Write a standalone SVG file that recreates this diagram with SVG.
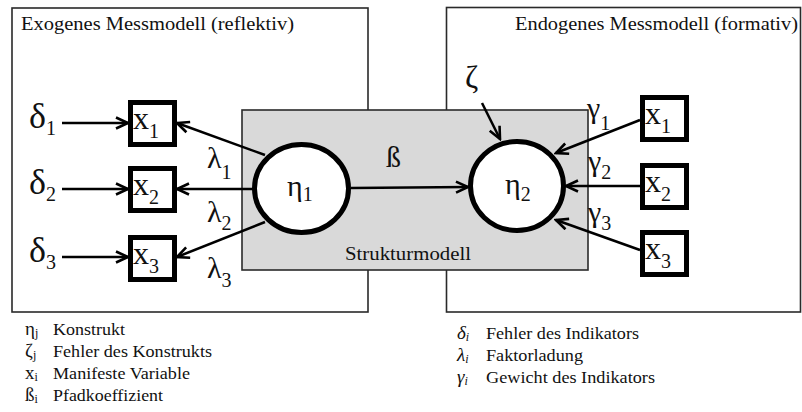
<svg xmlns="http://www.w3.org/2000/svg" width="802" height="412" viewBox="0 0 802 412">
<style>
text{fill:#111}
.frame{fill:#fff;stroke:#2a2a2a;stroke-width:1.6}
.struct{fill:#d9d9d9;stroke:#2a2a2a;stroke-width:1.6}
.box{fill:#fff;stroke:#000;stroke-width:5}
.lat{fill:#fff;stroke:#000;stroke-width:5}
.con{stroke:#000;stroke-width:2.5;fill:none;marker-end:url(#ah)}
</style>
<defs>
<marker id="ah" markerUnits="userSpaceOnUse" markerWidth="16" markerHeight="14" viewBox="0 0 16 14" refX="14" refY="7" orient="auto">
<path d="M2,1.5 L14,7 L2,12.5" fill="none" stroke="#000" stroke-width="2.6" stroke-linejoin="miter"/>
</marker>
</defs>

<g id="exogen-frame">
<rect class="frame" x="12" y="8" width="356" height="304"/>
<text font-family="Liberation Serif, serif" font-size="19" x="21" y="30" textLength="273" lengthAdjust="spacingAndGlyphs">Exogenes Messmodell (reflektiv)</text>
</g>
<g id="endogen-frame">
<rect class="frame" x="446.5" y="7.5" width="354" height="304.5"/>
<text font-family="Liberation Serif, serif" font-size="19" x="515" y="30" textLength="283" lengthAdjust="spacingAndGlyphs">Endogenes Messmodell (formativ)</text>
</g>
<g id="strukturmodell">
<rect class="struct" x="242" y="110" width="346" height="160"/>
<text font-family="Liberation Serif, serif" font-size="19" x="345" y="260" textLength="126" lengthAdjust="spacingAndGlyphs">Strukturmodell</text>
</g>

<g id="connectors">
<line class="con" x1="62" y1="123" x2="128" y2="123"/>
<line class="con" x1="62" y1="189" x2="128" y2="189"/>
<line class="con" x1="62" y1="257" x2="128" y2="257"/>
<line class="con" x1="265" y1="155" x2="177" y2="123"/>
<line class="con" x1="253" y1="189" x2="177" y2="189"/>
<line class="con" x1="265" y1="222" x2="177" y2="257"/>
<line class="con" x1="351" y1="188" x2="468" y2="187"/>
<line class="con" x1="482" y1="103" x2="500" y2="139"/>
<line class="con" x1="640" y1="120" x2="556" y2="153"/>
<line class="con" x1="640" y1="186" x2="566" y2="186"/>
<line class="con" x1="640" y1="250" x2="556" y2="220"/>
</g>

<g id="eta1" font-family="Liberation Serif, serif">
<ellipse class="lat" cx="301.5" cy="188.5" rx="47" ry="44"/>
<text font-family="Liberation Serif, serif" font-size="30" x="287" y="196">η<tspan font-size="20" dy="5">1</tspan></text>
</g>
<g id="eta2" font-family="Liberation Serif, serif">
<ellipse class="lat" cx="517" cy="186" rx="46.5" ry="44.5"/>
<text font-family="Liberation Serif, serif" font-size="30" x="505" y="194">η<tspan font-size="20" dy="7">2</tspan></text>
</g>

<g id="x1-left" font-family="Liberation Serif, serif">
<rect class="box" x="130.5" y="102.5" width="44" height="42"/>
<text font-family="Liberation Serif, serif" font-size="32" x="133" y="129">x<tspan font-size="20" dy="9">1</tspan></text>
</g>
<g id="x2-left" font-family="Liberation Serif, serif">
<rect class="box" x="130.5" y="168.5" width="44" height="42"/>
<text font-family="Liberation Serif, serif" font-size="32" x="133" y="195">x<tspan font-size="20" dy="9">2</tspan></text>
</g>
<g id="x3-left" font-family="Liberation Serif, serif">
<rect class="box" x="130.5" y="237.5" width="44" height="42"/>
<text font-family="Liberation Serif, serif" font-size="32" x="133" y="264">x<tspan font-size="20" dy="9">3</tspan></text>
</g>
<g id="x1-right" font-family="Liberation Serif, serif">
<rect class="box" x="642.5" y="97.5" width="44" height="42"/>
<text font-family="Liberation Serif, serif" font-size="32" x="645" y="124">x<tspan font-size="20" dy="9">1</tspan></text>
</g>
<g id="x2-right" font-family="Liberation Serif, serif">
<rect class="box" x="642.5" y="165.5" width="44" height="42"/>
<text font-family="Liberation Serif, serif" font-size="32" x="645" y="192">x<tspan font-size="20" dy="9">2</tspan></text>
</g>
<g id="x3-right" font-family="Liberation Serif, serif">
<rect class="box" x="642.5" y="232.5" width="44" height="42"/>
<text font-family="Liberation Serif, serif" font-size="32" x="645" y="259">x<tspan font-size="20" dy="9">3</tspan></text>
</g>

<g id="delta1"><text font-family="Liberation Serif, serif" font-size="36" x="29" y="128">δ<tspan font-size="20" dy="7">1</tspan></text></g>
<g id="delta2"><text font-family="Liberation Serif, serif" font-size="36" x="29" y="194">δ<tspan font-size="20" dy="7">2</tspan></text></g>
<g id="delta3"><text font-family="Liberation Serif, serif" font-size="36" x="29" y="262">δ<tspan font-size="20" dy="7">3</tspan></text></g>

<g id="lambda-labels" font-family="Liberation Serif, serif" font-size="30">
<text font-family="Liberation Serif, serif" x="207" y="168">λ<tspan font-size="20" dy="11">1</tspan></text>
<text font-family="Liberation Serif, serif" x="207" y="222">λ<tspan font-size="20" dy="8">2</tspan></text>
<text font-family="Liberation Serif, serif" x="207" y="278">λ<tspan font-size="20" dy="9">3</tspan></text>
</g>
<g id="beta-label"><text font-family="Liberation Serif, serif" font-size="30" x="386" y="167">ß</text></g>
<g id="zeta-label"><text font-family="Liberation Serif, serif" font-size="32" x="465" y="88">ζ</text></g>
<g id="gamma-labels" font-family="Liberation Serif, serif" font-size="30">
<text font-family="Liberation Serif, serif" x="587" y="118">γ<tspan font-size="20" dy="12">1</tspan></text>
<text font-family="Liberation Serif, serif" x="588" y="171">γ<tspan font-size="20" dy="8">2</tspan></text>
<text font-family="Liberation Serif, serif" x="588" y="222">γ<tspan font-size="20" dy="8">3</tspan></text>
</g>

<g id="legend-left" font-family="Liberation Serif, serif">
<text font-family="Liberation Serif, serif" font-size="19" x="25" y="335">η<tspan font-size="12" dy="2">j</tspan></text>
<text font-family="Liberation Serif, serif" font-size="17" x="53" y="335" textLength="72" lengthAdjust="spacingAndGlyphs">Konstrukt</text>
<text font-family="Liberation Serif, serif" font-size="19" x="25" y="357">ζ<tspan font-size="12" dy="2">j</tspan></text>
<text font-family="Liberation Serif, serif" font-size="17" x="53" y="357" textLength="159" lengthAdjust="spacingAndGlyphs">Fehler des Konstrukts</text>
<text font-family="Liberation Serif, serif" font-size="19" x="25" y="379">x<tspan font-size="12" dy="2">i</tspan></text>
<text font-family="Liberation Serif, serif" font-size="17" x="53" y="379" textLength="137" lengthAdjust="spacingAndGlyphs">Manifeste Variable</text>
<text font-family="Liberation Serif, serif" font-size="19" x="25" y="401">ß<tspan font-size="12" dy="2">i</tspan></text>
<text font-family="Liberation Serif, serif" font-size="17" x="53" y="401" textLength="110" lengthAdjust="spacingAndGlyphs">Pfadkoeffizient</text>
</g>
<g id="legend-right" font-family="Liberation Serif, serif">
<text font-family="Liberation Serif, serif" font-style="italic" font-size="19" x="457" y="339">δ<tspan font-size="12" dy="2">i</tspan></text>
<text font-family="Liberation Serif, serif" font-size="17" x="486" y="339" textLength="153" lengthAdjust="spacingAndGlyphs">Fehler des Indikators</text>
<text font-family="Liberation Serif, serif" font-style="italic" font-size="19" x="457" y="361">λ<tspan font-size="12" dy="2">i</tspan></text>
<text font-family="Liberation Serif, serif" font-size="17" x="486" y="361" textLength="97" lengthAdjust="spacingAndGlyphs">Faktorladung</text>
<text font-family="Liberation Serif, serif" font-style="italic" font-size="19" x="457" y="383">γ<tspan font-size="12" dy="2">i</tspan></text>
<text font-family="Liberation Serif, serif" font-size="17" x="486" y="383" textLength="169" lengthAdjust="spacingAndGlyphs">Gewicht des Indikators</text>
</g>
</svg>
